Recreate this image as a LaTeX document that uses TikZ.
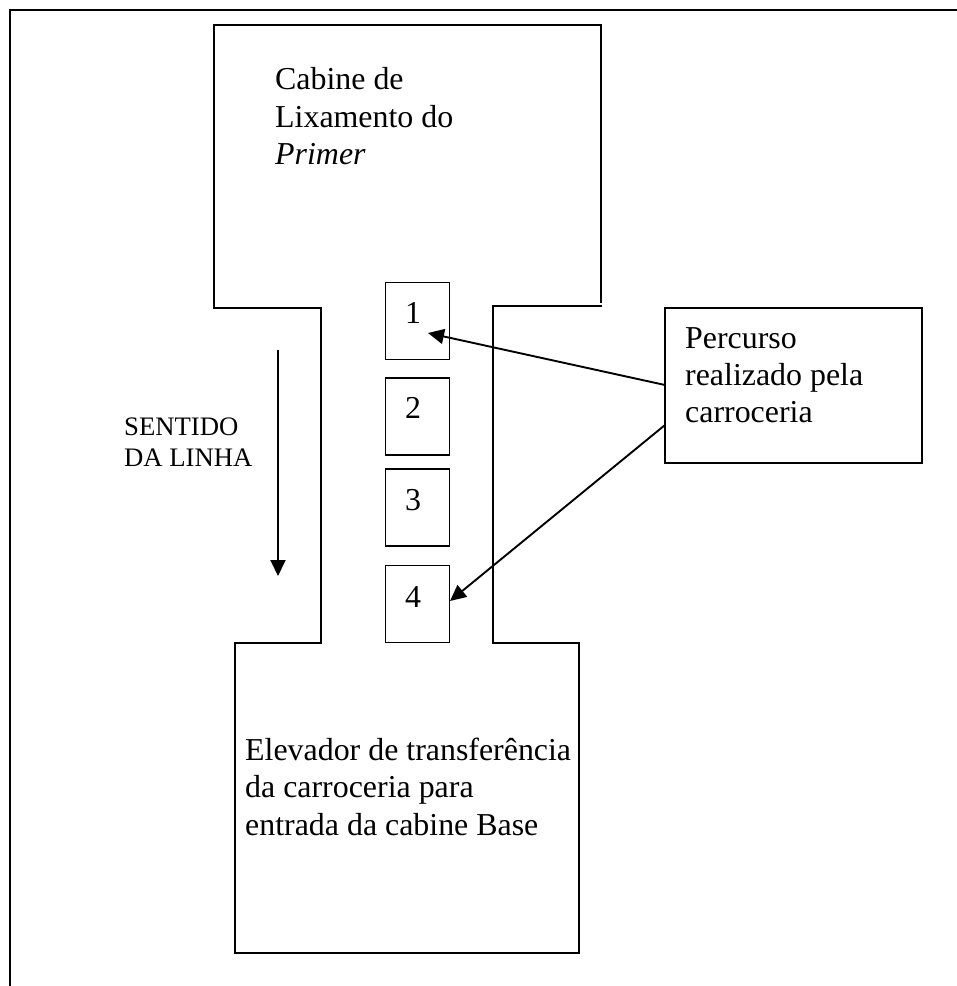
\documentclass[tikz,border=0pt]{standalone}
\usepackage{fontspec}
\setmainfont{Liberation Serif}
\usetikzlibrary{arrows.meta}
\tikzset{
  ln/.style={draw=black,line width=1.7pt},
  lbl/.style={anchor=base west,inner sep=0pt,font=\fontsize{31.9}{36}\selectfont},
  sm/.style={anchor=base west,inner sep=0pt,font=\fontsize{26.7}{30}\selectfont},
  numbox/.style={ln,minimum width=64pt,minimum height=77pt,inner sep=0pt},
  arr/.style={draw=black,line width=1.9pt,-{Stealth[length=16pt,width=15pt,inset=0pt]}}
}
\begin{document}
\begin{tikzpicture}[x=1pt,y=-1pt]
\useasboundingbox (0,0) rectangle (957,986);
\path[fill=white] (0,0) rectangle (957,986);
\draw[ln] (10,986) -- (10,10) -- (957,10);
\draw[ln,line join=miter] (601,303) -- (601,25) -- (214,25) -- (214,308) -- (321,308) -- (321,643) -- (235,643) -- (235,953) -- (579,953) -- (579,643) -- (493,643) -- (493,306) -- (602,306);
\node[lbl] (t1) at (275,89) {Cabine de};
\node[lbl] (t2) at (275,127) {Lixamento do};
\node[lbl] (t3) at (275,164) {\itshape Primer};
\node[numbox] (b1) at (417.5,321) {};
\node[numbox] (b2) at (417.5,416.5) {};
\node[numbox] (b3) at (417.5,507.5) {};
\node[numbox] (b4) at (417.5,604) {};
\node[lbl] (n1) at (405,323) {1};
\node[lbl] (n2) at (405,418) {2};
\node[lbl] (n3) at (405,510) {3};
\node[lbl] (n4) at (405,607) {4};
\node[ln,minimum width=257pt,minimum height=155pt,inner sep=0pt] (p) at (793.5,385.5) {};
\node[lbl] (p1t) at (685,348) {Percurso};
\node[lbl] (p2t) at (685,385) {realizado pela};
\node[lbl] (p3t) at (685,422) {carroceria};
\node[sm] (s1) at (124,435) {SENTIDO};
\node[sm] (s2) at (124,466) {DA LINHA};
\coordinate (a0) at (278,350);
\coordinate (a1) at (278,576);
\draw[arr] (a0) -- (a1);
\coordinate (p1) at (665,385);
\coordinate (e1) at (428,333);
\draw[arr] (p1) -- (e1);
\coordinate (p2) at (665,425);
\coordinate (e2) at (450,601);
\draw[arr] (p2) -- (e2);
\node[lbl] (e1t) at (245,760) {Elevador de transferência};
\node[lbl] (e2t) at (245,797) {da carroceria para};
\node[lbl] (e3t) at (245,835) {entrada da cabine Base};
\end{tikzpicture}
\end{document}
